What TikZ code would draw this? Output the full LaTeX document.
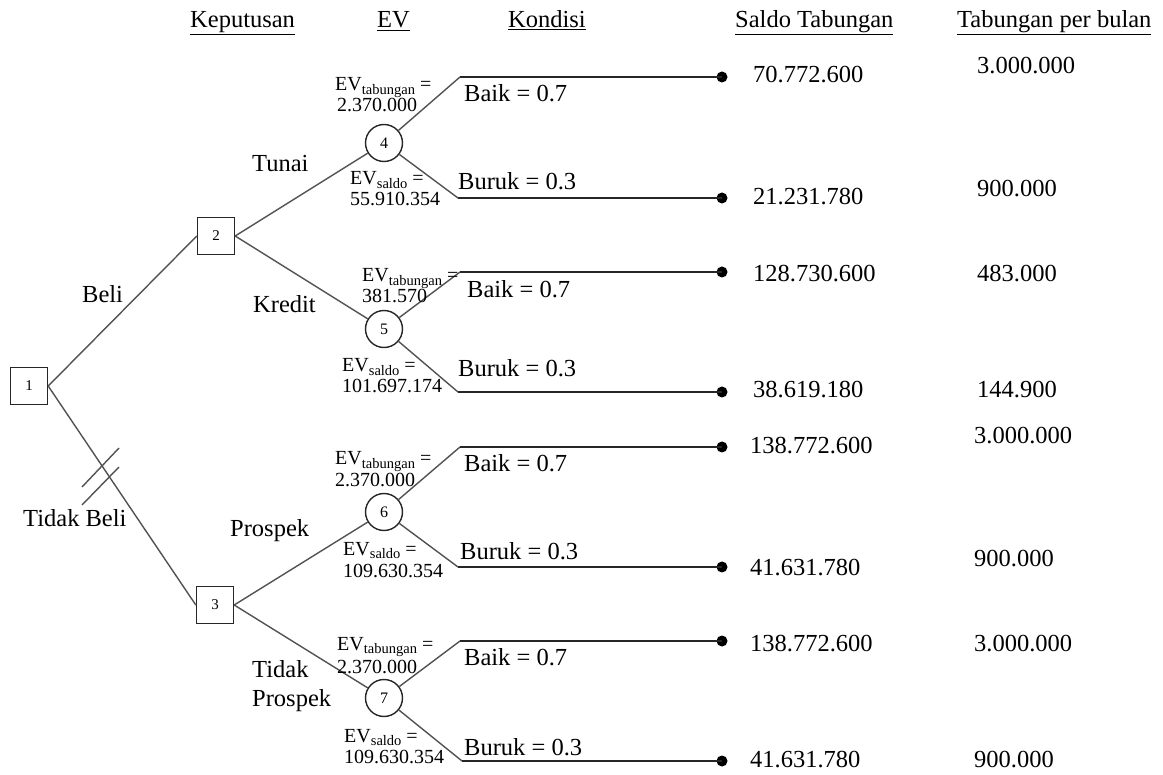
\documentclass[tikz,border=0pt]{standalone}
\usepackage{fontspec}
\setmainfont{Liberation Serif}
% small lowered subscript used in the EV labels
\newcommand\evsub[1]{\raisebox{-0.35ex}{\fontsize{14.5}{14.5}\selectfont #1}}
\begin{document}
\begin{tikzpicture}[x=1pt,y=-1pt,
  txt/.style={anchor=base west,inner sep=0pt,font=\fontsize{24.5}{28}\selectfont},
  evt/.style={anchor=base west,inner sep=0pt,font=\fontsize{20}{22}\selectfont},
  decbox/.style={draw=black!85,line width=1.4pt,minimum size=37pt,inner sep=0pt,font=\fontsize{15}{15}\selectfont},
  chance/.style={circle,draw=black!85,line width=1.4pt,minimum size=37pt,inner sep=0pt,font=\fontsize{16}{16}\selectfont},
  leaf/.style={circle,fill=black,minimum size=11pt,inner sep=0pt},
  branch/.style={draw=black!68,line width=1.4pt},
  outcome/.style={draw=black!85,line width=1.4pt}]
\useasboundingbox (0,0) rectangle (1163,775);

% column headings
\node[txt] (hk) at (190,28) {\underline{Keputusan}};
\node[txt] (he) at (377,28) {\underline{EV}};
\node[txt] (hc) at (508,28) {\underline{Kondisi}};
\node[txt] (hs) at (735,28) {\underline{Saldo Tabungan}};
\node[txt] (ht) at (957,28) {\underline{Tabungan per bulan}};

% decision nodes
\node[decbox] (n1) at (29,386) {1};
\node[decbox] (n2) at (216,236) {2};
\node[decbox] (n3) at (215,605) {3};

% chance nodes
\node[chance] (c4) at (384,143) {4};
\node[chance] (c5) at (384,329) {5};
\node[chance] (c6) at (384,512) {6};
\node[chance] (c7) at (384,698) {7};

% decision branches
\draw[branch] (n1.east) -- (n2.west);
\draw[branch] (n1.east) -- (n3.west);
\draw[branch] (n2.east) -- (c4);
\draw[branch] (n2.east) -- (c5);
\draw[branch] (n3.east) -- (c6);
\draw[branch] (n3.east) -- (c7);

% pruned branch mark
\draw[branch] (82,487) -- (119,448);
\draw[branch] (82,505) -- (119,467);

% branch labels
\node[txt] (lbeli) at (82,303) {Beli};
\node[txt] (ltb) at (23,527) {Tidak Beli};
\node[txt] (ltunai) at (252,172) {Tunai};
\node[txt] (lkredit) at (253,313) {Kredit};
\node[txt] (lpros) at (230,537) {Prospek};
\node[txt] (ltp1) at (252,677) {Tidak};
\node[txt] (ltp2) at (252,706) {Prospek};

% outcome branches: knee points and end points
\coordinate (k4a) at (460,77);  \node[leaf] (d4a) at (722,77) {};
\coordinate (k4b) at (458,198); \node[leaf] (d4b) at (722,198) {};
\coordinate (k5a) at (460,272); \node[leaf] (d5a) at (722,272) {};
\coordinate (k5b) at (458,392); \node[leaf] (d5b) at (722,392) {};
\coordinate (k6a) at (460,447); \node[leaf] (d6a) at (722,447) {};
\coordinate (k6b) at (458,567); \node[leaf] (d6b) at (722,567) {};
\coordinate (k7a) at (460,641); \node[leaf] (d7a) at (722,641) {};
\coordinate (k7b) at (462,761); \node[leaf] (d7b) at (722,761) {};

\foreach \c/\k in {c4/k4a,c4/k4b,c5/k5a,c5/k5b,c6/k6a,c6/k6b,c7/k7a,c7/k7b}{
  \draw[branch] (\c) -- (\k);
}
\foreach \k/\d in {k4a/d4a,k4b/d4b,k5a/d5a,k5b/d5b,k6a/d6a,k6b/d6b,k7a/d7a,k7b/d7b}{
  \draw[outcome] (\k) -- (\d.center);
}

% condition labels
\node[txt] (p4a) at (464,102) {Baik = 0.7};
\node[txt] (p4b) at (458,190) {Buruk = 0.3};
\node[txt] (p5a) at (467,298) {Baik = 0.7};
\node[txt] (p5b) at (458,377) {Buruk = 0.3};
\node[txt] (p6a) at (464,472) {Baik = 0.7};
\node[txt] (p6b) at (460,559) {Buruk = 0.3};
\node[txt] (p7a) at (464,665) {Baik = 0.7};
\node[txt] (p7b) at (464,755) {Buruk = 0.3};

% expected values
\node[evt] (e4t1) at (335,91)  {EV\evsub{tabungan} =};
\node[evt] (e4t2) at (337,112) {2.370.000};
\node[evt] (e4s1) at (350,185) {EV\evsub{saldo} =};
\node[evt] (e4s2) at (350,206) {55.910.354};
\node[evt] (e5t1) at (362,282) {EV\evsub{tabungan} =};
\node[evt] (e5t2) at (362,303) {381.570};
\node[evt] (e5s1) at (342,372) {EV\evsub{saldo} =};
\node[evt] (e5s2) at (342,393) {101.697.174};
\node[evt] (e6t1) at (335,465) {EV\evsub{tabungan} =};
\node[evt] (e6t2) at (335,487) {2.370.000};
\node[evt] (e6s1) at (343,555) {EV\evsub{saldo} =};
\node[evt] (e6s2) at (343,578) {109.630.354};
\node[evt] (e7t1) at (337,650) {EV\evsub{tabungan} =};
\node[evt] (e7t2) at (337,673) {2.370.000};
\node[evt] (e7s1) at (344,742) {EV\evsub{saldo} =};
\node[evt] (e7s2) at (344,763) {109.630.354};

% savings balance
\node[txt] (s4a) at (753,83)  {70.772.600};
\node[txt] (s4b) at (753,205) {21.231.780};
\node[txt] (s5a) at (753,282) {128.730.600};
\node[txt] (s5b) at (753,398) {38.619.180};
\node[txt] (s6a) at (750,454) {138.772.600};
\node[txt] (s6b) at (750,576) {41.631.780};
\node[txt] (s7a) at (750,651) {138.772.600};
\node[txt] (s7b) at (750,767) {41.631.780};

% monthly savings
\node[txt] (m4a) at (977,74)  {3.000.000};
\node[txt] (m4b) at (977,197) {900.000};
\node[txt] (m5a) at (977,282) {483.000};
\node[txt] (m5b) at (977,398) {144.900};
\node[txt] (m6a) at (974,444) {3.000.000};
\node[txt] (m6b) at (974,567) {900.000};
\node[txt] (m7a) at (974,651) {3.000.000};
\node[txt] (m7b) at (974,767) {900.000};
\end{tikzpicture}
\end{document}
